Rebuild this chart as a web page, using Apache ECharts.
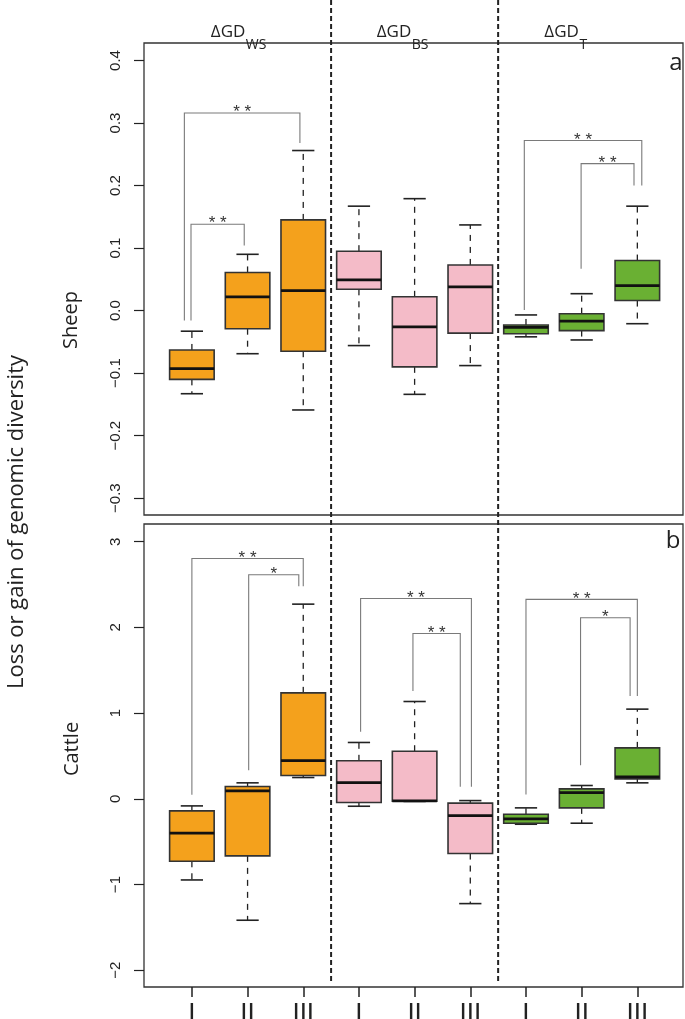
<!DOCTYPE html>
<html><head><meta charset="utf-8">
<script src="https://cdn.jsdelivr.net/npm/echarts@6/dist/echarts.min.js"></script>
<style>html,body{margin:0;padding:0;background:#fff}#c{width:685px;height:1019px}</style>
</head><body><div id="c"></div>
<script>
// ---------- data ----------
var groupLabels = ['I','II','III','I','II','III','I','II','III'];
var measures = ['WS','BS','T'];
var headerPos = [1.96, 4.94, 7.95];
var separatorPos = [3.5, 6.5];

var sheepMin = [-0.133,-0.069,-0.159,-0.056,-0.134,-0.088,-0.042,-0.047,-0.021];
var sheepQ1  = [-0.110,-0.029,-0.065, 0.034,-0.090,-0.036,-0.037,-0.032, 0.016];
var sheepMed = [-0.093, 0.022, 0.032, 0.049,-0.026, 0.038,-0.027,-0.017, 0.040];
var sheepQ3  = [-0.063, 0.061, 0.145, 0.095, 0.022, 0.073,-0.023,-0.005, 0.080];
var sheepMax = [-0.033, 0.090, 0.256, 0.167, 0.179, 0.137,-0.007, 0.027, 0.167];

var cattleMin = [-0.946,-1.416, 0.249,-0.086,-0.030,-1.222,-0.296,-0.284, 0.187];
var cattleQ1  = [-0.728,-0.665, 0.272,-0.043,-0.027,-0.638,-0.284,-0.105, 0.233];
var cattleMed = [-0.400, 0.093, 0.447, 0.190,-0.024,-0.195,-0.233, 0.074, 0.257];
var cattleQ3  = [-0.140, 0.144, 1.237, 0.444, 0.556,-0.050,-0.179, 0.117, 0.595];
var cattleMax = [-0.082, 0.187, 2.272, 0.658, 1.136,-0.020,-0.105, 0.156, 1.047];

var sheepTicks  = [-0.3,-0.2,-0.1,0,0.1,0.2,0.3,0.4];
var cattleTicks = [-2,-1,0,1,2,3];

// brackets: [x1, x2, yTop, yLeftEnd, yRightEnd, label]
var sheepBrackets = [
  [0.865, 2.94, 0.316, -0.016, 0.268, '**'],
  [0.984, 1.94, 0.138, -0.016, 0.104, '**'],
  [6.97, 9.08, 0.272, 0.001, 0.200, '**'],
  [7.99, 8.94, 0.235, 0.067, 0.200, '**']
];
var cattleBrackets = [
  [1.00, 3.00, 2.805, 0.047, 2.48, '**'],
  [2.02, 2.92, 2.615, 0.335, 2.48, '*'],
  [4.03, 6.02, 2.338, 0.782, 0.14, '**'],
  [4.97, 5.82, 1.930, 1.260, 0.14, '**'],
  [7.00, 9.00, 2.327, 0.050, 1.20, '**'],
  [7.98, 8.87, 2.113, 0.393, 1.20, '*']
];

// ---------- styles ----------
var fills = ['#F4A11C', '#F4BBC8', '#6AB033'];
var xMin = 0.14, xMax = 9.82;
var sheepRange = [-0.327, 0.428];
var cattleRange = [-2.195, 3.207];
var positions = groupLabels.map(function (_, i) { return i + 1; });

function fmtNum(v) {
  var s = (Math.round(v * 10) / 10).toString();
  if (s === '-0') s = '0';
  return s.replace('-', '\u2212');
}
function fmtCattle(v) { return String(Math.round(v)).replace('-', '\u2212'); }

function boxData(mn, q1, md, q3, mx) {
  return positions.map(function (p, i) { return [p, mn[i], q1[i], md[i], q3[i], mx[i]]; });
}

function boxItem(params, api) {
  var x = api.value(0);
  var pMin = api.coord([x, api.value(1)]);
  var pQ1 = api.coord([x, api.value(2)]);
  var pMed = api.coord([x, api.value(3)]);
  var pQ3 = api.coord([x, api.value(4)]);
  var pMax = api.coord([x, api.value(5)]);
  var bw = api.size([0.8, 0])[0];
  var cw = api.size([0.4, 0])[0];
  var cx = pMed[0];
  var col = fills[Math.floor(params.dataIndex / 3)];
  var dash = { stroke: '#222', lineWidth: 1.3, lineDash: [6, 6] };
  var solid = { stroke: '#222', lineWidth: 1.6 };
  return { type: 'group', children: [
    { type: 'line', shape: { x1: cx, y1: pQ3[1], x2: cx, y2: pMax[1] }, style: dash },
    { type: 'line', shape: { x1: cx, y1: pQ1[1], x2: cx, y2: pMin[1] }, style: dash },
    { type: 'line', shape: { x1: cx - cw / 2, y1: pMax[1], x2: cx + cw / 2, y2: pMax[1] }, style: solid },
    { type: 'line', shape: { x1: cx - cw / 2, y1: pMin[1], x2: cx + cw / 2, y2: pMin[1] }, style: solid },
    { type: 'rect', shape: { x: cx - bw / 2, y: pQ3[1], width: bw, height: pQ1[1] - pQ3[1] },
      style: { fill: col, stroke: '#333', lineWidth: 1.6 } },
    { type: 'line', shape: { x1: cx - bw / 2, y1: pMed[1], x2: cx + bw / 2, y2: pMed[1] },
      style: { stroke: '#111', lineWidth: 2.8 } }
  ]};
}

function bracketRenderer(list) {
  return function (params, api) {
    var b = list[params.dataIndex];
    var pL = api.coord([b[0], b[3]]);
    var pLT = api.coord([b[0], b[2]]);
    var pRT = api.coord([b[1], b[2]]);
    var pR = api.coord([b[1], b[4]]);
    return { type: 'group', children: [
      { type: 'polyline', shape: { points: [pL, pLT, pRT, pR] },
        style: { stroke: '#7a7a7a', lineWidth: 1.1, fill: null } },
      { type: 'text', x: (pLT[0] + pRT[0]) / 2, y: pLT[1] + 8,
        style: { text: b[5].split('').join(' '), fill: '#333', fontSize: 17,
          fontFamily: 'Liberation Sans, Arial, sans-serif', align: 'center', verticalAlign: 'bottom' } }
    ]};
  };
}

function headerItem(params, api) {
  var p = api.coord([api.value(0), sheepRange[1]]);
  var m = measures[params.dataIndex];
  return { type: 'group', children: [
    { type: 'text', x: p[0], y: p[1] - 2,
      style: { text: '\u0394GD', fontSize: 17, fill: '#222',
        fontFamily: 'Open Sans, Noto Sans, sans-serif', align: 'right', verticalAlign: 'bottom' } },
    { type: 'text', x: p[0] + 0.5, y: p[1] + 9,
      style: { text: m, fontSize: 14, fill: '#222',
        fontFamily: 'Open Sans, Noto Sans, sans-serif', align: 'left', verticalAlign: 'bottom' } }
  ]};
}

function sepItem(params, api) {
  var x = api.value(0);
  var p0 = api.coord([x, 1]);
  var p1 = api.coord([x, 0]);
  return { type: 'line', shape: { x1: p0[0], y1: p0[1], x2: p1[0], y2: p1[1] },
    style: { stroke: '#222', lineWidth: 2, lineDash: [5, 3] } };
}

var tickFont = { fontSize: 15, color: '#222', fontFamily: 'Liberation Sans, Arial, sans-serif' };

var option = {
  animation: false,
  backgroundColor: '#fff',
  grid: [
    { left: 144, right: 2, top: 43, height: 472, show: true, borderColor: '#333', borderWidth: 1.3, backgroundColor: 'transparent', containLabel: false, outerBoundsMode: 'none' },
    { left: 144, right: 2, top: 524, height: 463, show: true, borderColor: '#333', borderWidth: 1.3, backgroundColor: 'transparent', containLabel: false, outerBoundsMode: 'none' },
    { left: 144, right: 2, top: 0, height: 983, show: false, containLabel: false, outerBoundsMode: 'none' }
  ],
  xAxis: [
    { gridIndex: 0, type: 'value', min: xMin, max: xMax, position: 'bottom', axisLine: { show: false, onZero: false }, axisTick: { show: false }, axisLabel: { show: false }, splitLine: { show: false } },
    { gridIndex: 1, type: 'value', min: xMin, max: xMax, position: 'bottom', axisLine: { show: false, onZero: false }, splitLine: { show: false },
      axisTick: { show: true, length: 10, lineStyle: { color: '#222', width: 1.5 }, customValues: positions },
      axisLabel: { show: true, customValues: positions, margin: 14, fontSize: 26, color: '#222',
        fontFamily: 'Liberation Sans, Arial, sans-serif',
        formatter: function (v) { return groupLabels[Math.round(v) - 1] || ''; } } },
    { gridIndex: 2, type: 'value', min: xMin, max: xMax, show: false, axisLine: { onZero: false } }
  ],
  yAxis: [
    { gridIndex: 0, type: 'value', min: sheepRange[0], max: sheepRange[1], axisLine: { show: false, onZero: false }, splitLine: { show: false },
      axisTick: { show: true, length: 10, lineStyle: { color: '#222', width: 1.2 }, customValues: sheepTicks },
      axisLabel: Object.assign({ show: true, rotate: 90, margin: 21, customValues: sheepTicks,
        formatter: function (v) { var s = fmtNum(v); if (s.indexOf('.') < 0) s += '.0'; return s; } }, tickFont) },
    { gridIndex: 1, type: 'value', min: cattleRange[0], max: cattleRange[1], axisLine: { show: false, onZero: false }, splitLine: { show: false },
      axisTick: { show: true, length: 10, lineStyle: { color: '#222', width: 1.2 }, customValues: cattleTicks },
      axisLabel: Object.assign({ show: true, rotate: 90, margin: 21, customValues: cattleTicks,
        formatter: fmtCattle }, tickFont) },
    { gridIndex: 2, type: 'value', min: 0, max: 1, show: false, axisLine: { onZero: false } }
  ],
  series: [
    { type: 'custom', xAxisIndex: 2, yAxisIndex: 2, data: separatorPos.map(function (p) { return [p]; }), renderItem: sepItem, silent: true, z: 1 },
    { type: 'custom', xAxisIndex: 0, yAxisIndex: 0, data: boxData(sheepMin, sheepQ1, sheepMed, sheepQ3, sheepMax),
      encode: { x: 0, y: [1, 2, 3, 4, 5] }, renderItem: boxItem, z: 3 },
    { type: 'custom', xAxisIndex: 1, yAxisIndex: 1, data: boxData(cattleMin, cattleQ1, cattleMed, cattleQ3, cattleMax),
      encode: { x: 0, y: [1, 2, 3, 4, 5] }, renderItem: boxItem, z: 3 },
    { type: 'custom', xAxisIndex: 0, yAxisIndex: 0, data: sheepBrackets.map(function (b) { return [b[0], b[2]]; }),
      renderItem: bracketRenderer(sheepBrackets), z: 4 },
    { type: 'custom', xAxisIndex: 1, yAxisIndex: 1, data: cattleBrackets.map(function (b) { return [b[0], b[2]]; }),
      renderItem: bracketRenderer(cattleBrackets), z: 4 },
    { type: 'custom', xAxisIndex: 0, yAxisIndex: 0, data: headerPos.map(function (p) { return [p, sheepRange[1]]; }),
      renderItem: headerItem, z: 5, clip: false }
  ],
  graphic: [
    { type: 'text', x: 17, y: 522, rotation: Math.PI / 2,
      style: { text: 'Loss or gain of genomic diversity', fontSize: 22, fill: '#222', fontFamily: 'Open Sans, Noto Sans, sans-serif', align: 'center', verticalAlign: 'middle' } },
    { type: 'text', x: 71, y: 320, rotation: Math.PI / 2,
      style: { text: 'Sheep', fontSize: 20, fill: '#222', fontFamily: 'Open Sans, Noto Sans, sans-serif', align: 'center', verticalAlign: 'middle' } },
    { type: 'text', x: 72, y: 749, rotation: Math.PI / 2,
      style: { text: 'Cattle', fontSize: 20, fill: '#222', fontFamily: 'Open Sans, Noto Sans, sans-serif', align: 'center', verticalAlign: 'middle' } },
    { type: 'text', x: 676, y: 63, style: { text: 'a', fontSize: 24, fill: '#222', fontFamily: 'Open Sans, Noto Sans, sans-serif', align: 'center', verticalAlign: 'middle' } },
    { type: 'text', x: 673, y: 541, style: { text: 'b', fontSize: 24, fill: '#222', fontFamily: 'Open Sans, Noto Sans, sans-serif', align: 'center', verticalAlign: 'middle' } }
  ]
};

var chart = echarts.init(document.getElementById('c'), null, { renderer: 'canvas' });
chart.setOption(option);
</script>
</body></html>
